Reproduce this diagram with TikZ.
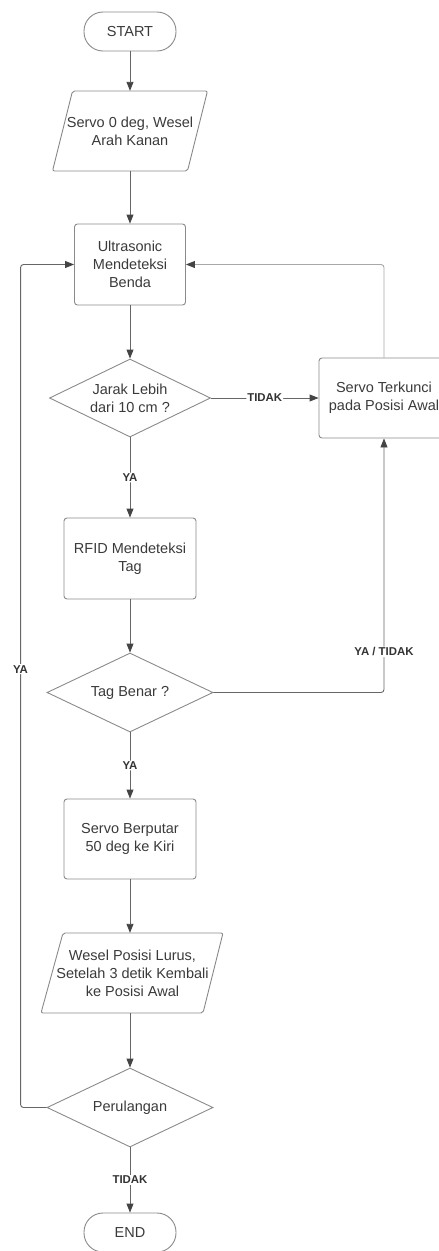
\documentclass[tikz,border=0pt]{standalone}
\usepackage{fontspec}
\setmainfont{Liberation Sans}
\usetikzlibrary{arrows.meta,calc,shapes.geometric}
\definecolor{txt}{HTML}{3A3A3A}
\definecolor{edge}{HTML}{8A8A8A}
\definecolor{conn}{HTML}{666666}
\definecolor{light}{HTML}{A8A8A8}
\definecolor{tip}{HTML}{444444}
\definecolor{lbl}{HTML}{333333}
\begin{document}
\begin{tikzpicture}[x=1pt,y=-1pt,
  every node/.style={font=\fontsize{14.5}{18}\selectfont, text=txt},
  term/.style={draw=edge, line width=0.9pt, rectangle, rounded corners=19pt, minimum width=92pt, minimum height=39pt, inner sep=0pt},
  procbox/.style={draw=edge, line width=0.9pt, rectangle, rounded corners=3pt, align=center, inner sep=0pt},
  iobox/.style={rectangle, align=center, inner sep=0pt},
  decbox/.style={draw=edge, line width=0.9pt, diamond, aspect=2, inner sep=0pt, align=center},
  ioline/.style={draw=edge, line width=0.9pt, rounded corners=2pt},
  flow/.style={draw=conn, line width=0.9pt, -{Triangle[length=9pt,width=7pt,color=tip]}, rounded corners=3pt},
  lab/.style={font=\bfseries\fontsize{11.4}{13}\selectfont, text=lbl, fill=white, inner sep=1pt}
]
\useasboundingbox (0,0) rectangle (439,1251);
\clip (0,0) rectangle (439,1251);

\node[term] (start) at (130,31.5) {START};
\node[iobox, minimum width=135pt, minimum height=80pt] (p1) at (130,131) {Servo 0 deg, Wesel\\Arah Kanan};
\draw[ioline] ($(p1.center)+(-57.5,-40)$) -- ($(p1.center)+(77.5,-40)$) -- ($(p1.center)+(57.5,40)$) -- ($(p1.center)+(-77.5,40)$) -- cycle;
\node[procbox, minimum width=111pt, minimum height=81pt] (ultra) at (130,264.5) {Ultrasonic\\Mendeteksi\\Benda};
\node[decbox, minimum width=161pt, minimum height=78pt] (jarak) at (130,398) {Jarak Lebih\\dari 10 cm ?};
\node[procbox, minimum width=130pt, minimum height=80pt] (lock) at (384,398) {Servo Terkunci\\pada Posisi Awal};
\node[procbox, minimum width=132pt, minimum height=81pt] (rfid) at (130,558.5) {RFID Mendeteksi\\Tag};
\node[decbox, minimum width=166pt, minimum height=79pt] (tag) at (130,692.5) {Tag Benar ?};
\node[procbox, minimum width=132pt, minimum height=80pt] (turn) at (130,839) {Servo Berputar\\50 deg ke Kiri};
\node[iobox, minimum width=161pt, minimum height=80pt] (p2) at (132.5,973) {Wesel Posisi Lurus,\\Setelah 3 detik Kembali\\ke Posisi Awal};
\draw[ioline] ($(p2.center)+(-69.5,-40)$) -- ($(p2.center)+(90.5,-40)$) -- ($(p2.center)+(70.5,40)$) -- ($(p2.center)+(-91.5,40)$) -- cycle;
\node[decbox, minimum width=166pt, minimum height=79pt] (loop) at (130,1107.5) {Perulangan};
\node[term] (end) at (130,1232.5) {END};

\draw[flow] (start) -- (p1);
\draw[flow] (p1) -- (ultra);
\draw[flow] (ultra) -- (jarak);
\draw[flow] (jarak) -- node[lab]{TIDAK} (lock);
\draw[flow] (jarak) -- node[lab]{YA} (rfid);
\draw[flow] (rfid) -- (tag);
\draw[flow] (tag.east) -| node[lab, pos=0.58]{YA / TIDAK} (lock.south);
\draw[flow, draw=light] (lock.north) |- (ultra.east);
\draw[flow] (tag) -- node[lab]{YA} (turn);
\draw[flow] (turn.south) -- (turn.south |- p2.north);
\draw[flow] (p2.south -| loop.north) -- (loop.north);
\draw[flow] (loop.west) -- ++(-26,0) |- node[lab, pos=0.26]{YA} (ultra.west);
\draw[flow] (loop) -- node[lab]{TIDAK} (end);
\end{tikzpicture}
\end{document}
